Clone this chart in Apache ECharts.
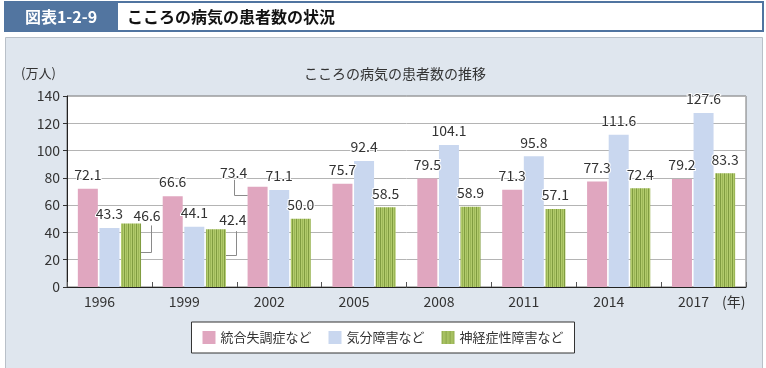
<!DOCTYPE html>
<html><head><meta charset="utf-8">
<script src="https://cdn.jsdelivr.net/npm/echarts@6/dist/echarts.min.js"></script>
<style>html,body{margin:0;padding:0;background:#fff}#c{width:766px;height:368px}</style>
</head><body><div id="c"></div>
<script>
// ---- data ----
const years = ['1996','1999','2002','2005','2008','2011','2014','2017'];
const schizo = [72.1, 66.6, 73.4, 75.7, 79.5, 71.3, 77.3, 79.2];
const mood   = [43.3, 44.1, 71.1, 92.4, 104.1, 95.8, 111.6, 127.6];
const neuro  = [46.6, 42.4, 50.0, 58.5, 58.9, 57.1, 72.4, 83.3];
const seriesNames = ['統合失調症など', '気分障害など', '神経症性障害など'];
const yMin = 0, yMax = 140, yStep = 20;

// labels moved off their bars with a leader line (seriesIndex_dataIndex)
const moved = {
  '2_0': {dx: 16, dy: 6, side: 'right'},
  '2_1': {dx: 17, dy: 5, side: 'right'},
  '0_2': {dx: -24, dy: 0, side: 'left'}
};

const FONT = '"Noto Sans CJK JP", "Noto Sans", sans-serif';
const BAR_W = 20, BAR_GAP = '8%';
const allSeries = [schizo, mood, neuro];

// striped green pattern
const cv = document.createElement('canvas');
cv.width = 4; cv.height = 4;
const cx2 = cv.getContext('2d');
cx2.fillStyle = '#b2cb6c'; cx2.fillRect(0, 0, 4, 4);
cx2.fillStyle = '#809c40'; cx2.fillRect(0, 0, 1, 4);
cx2.fillStyle = '#9bb656'; cx2.fillRect(2, 0, 1, 4);

function layout(p) {
  const m = moved[p.seriesIndex + '_' + p.dataIndex];
  if (!m) return {};
  return {dx: m.dx, dy: m.dy};
}

// leader-line data derived from the value arrays
const leaderData = Object.keys(moved).map(k => {
  const [si, di] = k.split('_').map(Number);
  return [di, allSeries[si][di], si, moved[k].side === 'right' ? 1 : 0, moved[k].dx];
});

const labelCfg = {
  show: true, position: 'top', distance: 7,
  fontSize: 14, color: '#333', fontFamily: FONT,
  textBorderColor: '#fff', textBorderWidth: 2,
  formatter: p => Number(p.value).toFixed(1)
};

const colors = ['#e0a6bf', '#c9d7ef', {image: cv, repeat: 'repeat'}];

const chart = echarts.init(document.getElementById('c'), null, {renderer: 'canvas'});
chart.setOption({
  animation: false,
  backgroundColor: '#fff',
  textStyle: {fontFamily: FONT},
  title: {
    text: 'こころの病気の患者数の推移',
    left: 390, top: 62, textAlign: 'center',
    textStyle: {fontSize: 14, fontWeight: 'normal', color: '#333', fontFamily: FONT}
  },
  graphic: [
    {type: 'rect', z: -10, shape: {x: 5.5, y: 37.5, width: 757, height: 335}, style: {fill: '#dfe6ee', stroke: '#b9c0c8', lineWidth: 1}, silent: true},
    {type: 'rect', z: -10, shape: {x: 5, y: 2, width: 758, height: 29}, style: {fill: '#fff', stroke: '#5074a0', lineWidth: 2}, silent: true},
    {type: 'rect', z: -9, shape: {x: 5, y: 2, width: 113, height: 29}, style: {fill: '#5275a0'}, silent: true},
    {type: 'text', z: 5, x: 61, y: 17, style: {text: '図表1-2-9', fill: '#fff', font: 'bold 16px ' + FONT, textAlign: 'center', textVerticalAlign: 'middle'}, silent: true},
    {type: 'text', z: 5, x: 127, y: 17, style: {text: 'こころの病気の患者数の状況', fill: '#111', font: 'bold 16px ' + FONT, textAlign: 'left', textVerticalAlign: 'middle'}, silent: true},
    {type: 'text', z: 5, x: 21, y: 73, style: {text: '(万人)', fill: '#333', font: '13px ' + FONT, textAlign: 'left', textVerticalAlign: 'middle'}, silent: true},
    {type: 'text', z: 5, x: 722, y: 302, style: {text: '(年)', fill: '#333', font: '14px ' + FONT, textAlign: 'left', textVerticalAlign: 'middle'}, silent: true}
  ],
  legend: {
    data: seriesNames,
    left: 'center', top: 322,
    backgroundColor: '#fff', borderColor: '#333', borderWidth: 1,
    padding: [9, 11], itemWidth: 13, itemHeight: 13, itemGap: 17,
    icon: 'rect',
    textStyle: {fontSize: 13, color: '#333', fontFamily: FONT}
  },
  grid: {
    left: 67, right: 20, top: 96, bottom: 81,
    show: true, backgroundColor: '#fff', borderColor: '#777', borderWidth: 1
  },
  xAxis: {
    type: 'category', data: years,
    axisLine: {lineStyle: {color: '#222', width: 1}},
    axisTick: {show: true, inside: true, length: 5, lineStyle: {color: '#555'}},
    axisLabel: {fontSize: 14, color: '#333', margin: 8, padding: [0, 20, 0, 0], fontFamily: FONT}
  },
  yAxis: {
    type: 'value', min: yMin, max: yMax, interval: yStep,
    axisLine: {show: true, lineStyle: {color: '#222', width: 1}},
    axisTick: {show: true, length: 4, lineStyle: {color: '#333'}},
    axisLabel: {fontSize: 14, color: '#333', margin: 7, fontFamily: FONT},
    splitLine: {lineStyle: {color: '#b4b4b4'}}
  },
  series: allSeries.map((arr, si) => ({
    name: seriesNames[si], type: 'bar',
    data: arr,
    barWidth: BAR_W, barGap: BAR_GAP,
    itemStyle: {color: colors[si]},
    label: labelCfg,
    labelLayout: layout,
    z: 2
  })).concat([{
    type: 'custom', name: 'leaders', silent: true, z: 3,
    encode: {x: 0, y: 1},
    data: leaderData,
    renderItem: function (params, api) {
      const xi = api.value(0), v = api.value(1), si = api.value(2), right = api.value(3), dx = api.value(4);
      const top = api.coord([xi, v]);
      const base = api.coord([xi, 0]);
      const step = BAR_W * 1.08;
      const bc = top[0] + (si - 1) * step;
      const l = bc - BAR_W / 2, r = bc + BAR_W / 2;
      let pts;
      if (right) {
        const ym = Math.round((top[1] + base[1]) / 2) - 2.5;
        const lx = Math.round(r + 10) + 0.5;
        pts = [[r, ym], [lx, ym], [lx, top[1] + 2]];
      } else {
        const lx = Math.round(bc + dx) + 0.5;
        const ym = Math.round(top[1] + 8) + 0.5;
        pts = [[lx, top[1] - 7], [lx, ym], [l, ym]];
      }
      return {type: 'polyline', shape: {points: pts}, style: {stroke: '#8a8a8a', lineWidth: 1, fill: null}};
    }
  }])
});
</script></body></html>
